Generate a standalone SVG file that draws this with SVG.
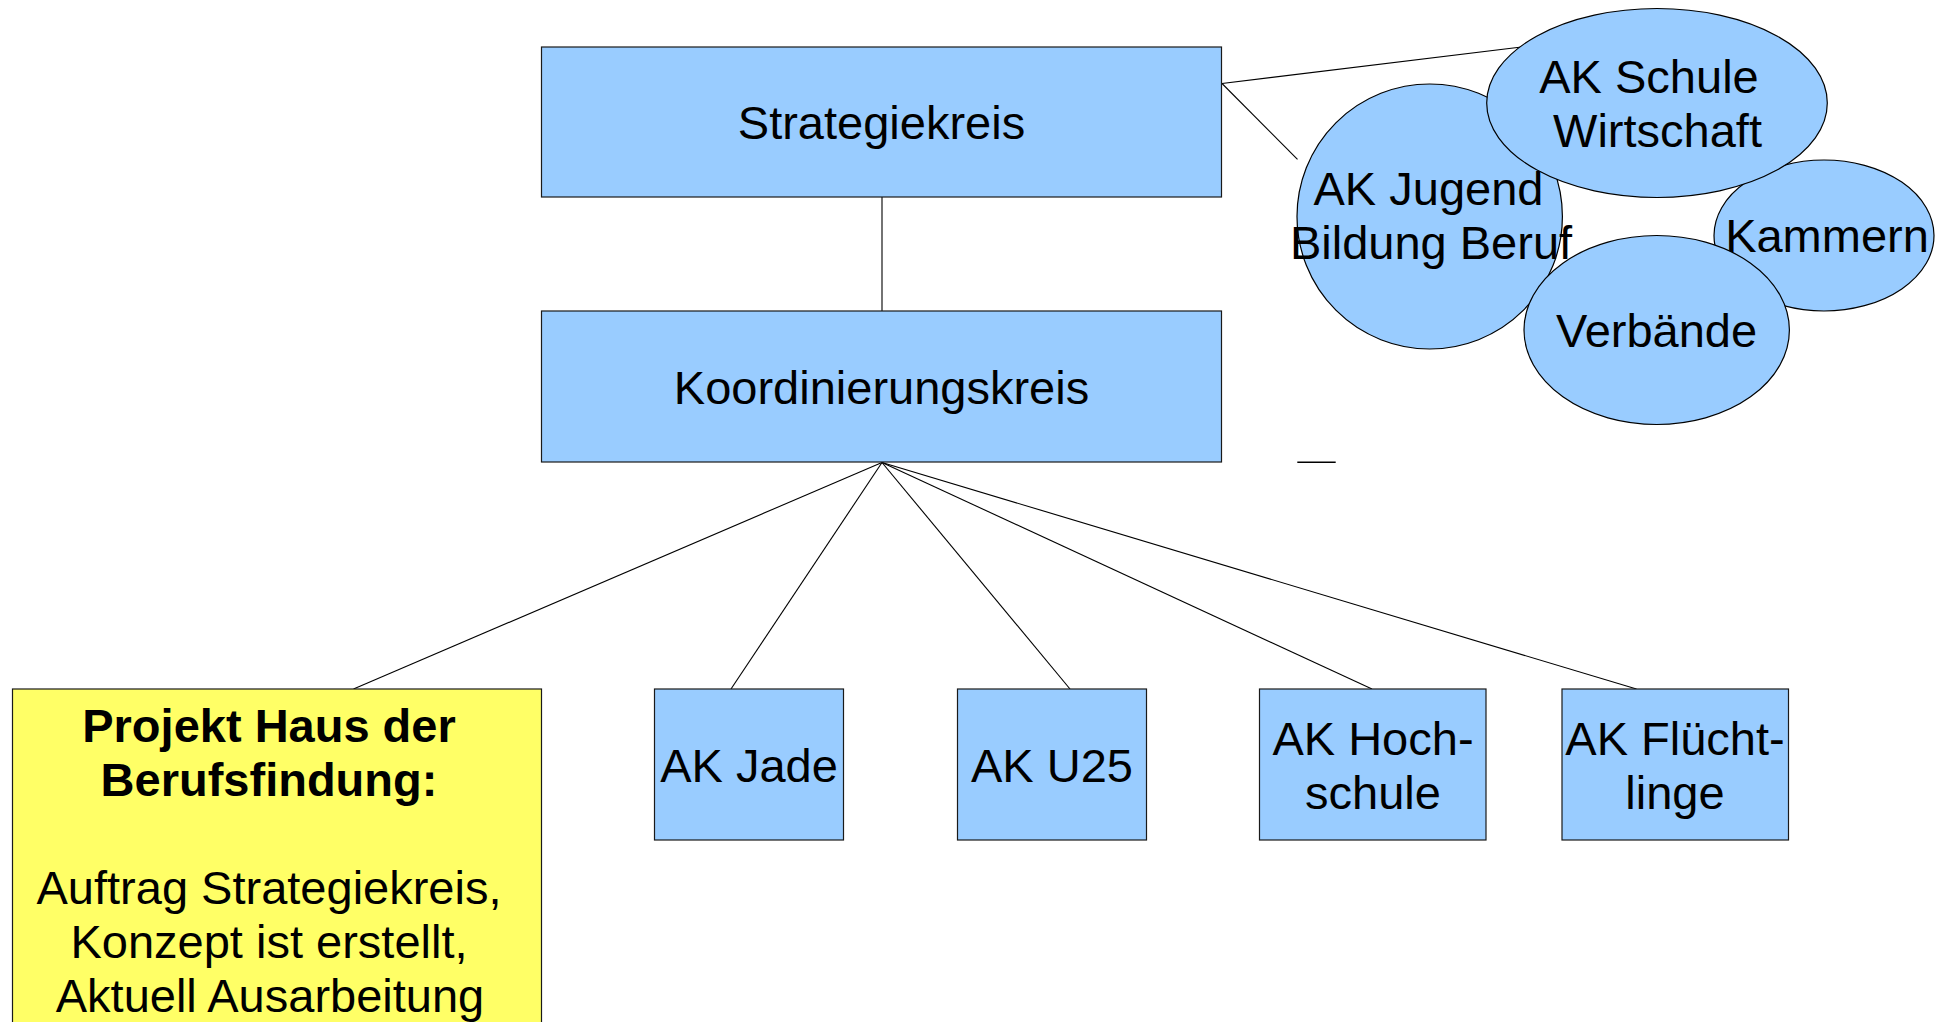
<svg xmlns="http://www.w3.org/2000/svg" width="1935" height="1022" viewBox="0 0 1935 1022">
<style>
.box{fill:#99ccff;stroke:#1a1a1a;stroke-width:1.2}
.yel{fill:#ffff66;stroke:#1a1a1a;stroke-width:1.2}
.ell{fill:#99ccff;stroke:#000;stroke-width:1.2}
.t{font-family:"Liberation Sans",Arial,sans-serif;font-size:47px;fill:#000;text-anchor:middle}
.b{font-weight:bold}
.c{stroke:#000;stroke-width:1.1;fill:none}
</style>
<rect width="1935" height="1022" fill="#fff"/>
<g id="connectors">
<line class="c" x1="882" y1="197" x2="882" y2="311"/>
<line class="c" x1="1222" y1="83.5" x2="1523.5" y2="46.7"/>
<line class="c" x1="1222" y1="83.5" x2="1297.5" y2="159.3"/>
<line class="c" x1="882" y1="462.5" x2="353.5" y2="689"/>
<line class="c" x1="882" y1="462.5" x2="731" y2="689"/>
<line class="c" x1="882" y1="462.5" x2="1070" y2="689"/>
<line class="c" x1="882" y1="462.5" x2="1372" y2="689"/>
<line class="c" x1="882" y1="462.5" x2="1636.5" y2="689"/>
<line x1="1297.3" y1="462.3" x2="1335.7" y2="462.3" stroke="#000" stroke-width="1.6"/>
</g>
<g id="strategiekreis">
<rect class="box" x="541.5" y="47" width="680" height="150"/>
<text class="t" x="881.5" y="139">Strategiekreis</text>
</g>
<g id="koordinierungskreis">
<rect class="box" x="541.5" y="311" width="680" height="151"/>
<text class="t" x="881.5" y="404">Koordinierungskreis</text>
</g>
<g id="projekt-haus">
<rect class="yel" x="12.5" y="689" width="529" height="360"/>
<text class="t b" x="269" y="742">Projekt Haus der</text>
<text class="t b" x="269" y="796">Berufsfindung:</text>
<text class="t" x="269" y="904">Auftrag Strategiekreis,</text>
<text class="t" x="269" y="958">Konzept ist erstellt,</text>
<text class="t" x="270" y="1012">Aktuell Ausarbeitung</text>
</g>
<g id="ak-jade">
<rect class="box" x="654.5" y="689" width="189" height="151"/>
<text class="t" x="749" y="782">AK Jade</text>
</g>
<g id="ak-u25">
<rect class="box" x="957.5" y="689" width="189" height="151"/>
<text class="t" x="1052" y="782">AK U25</text>
</g>
<g id="ak-hochschule">
<rect class="box" x="1259.5" y="689" width="226.5" height="151"/>
<text class="t" x="1373" y="755">AK Hoch-</text>
<text class="t" x="1373" y="809">schule</text>
</g>
<g id="ak-fluechtlinge">
<rect class="box" x="1562" y="689" width="226.5" height="151"/>
<text class="t" x="1675" y="755">AK Flücht-</text>
<text class="t" x="1675" y="809">linge</text>
</g>
<g id="ak-jugend">
<ellipse class="ell" cx="1429.7" cy="216.5" rx="132.7" ry="132.5"/>
<text class="t" x="1428.5" y="205">AK Jugend</text>
<text class="t" x="1431" y="259">Bildung Beruf</text>
</g>
<g id="kammern">
<ellipse class="ell" cx="1824" cy="235.5" rx="110" ry="75.5"/>
<text class="t" x="1827" y="252">Kammern</text>
</g>
<g id="ak-schule-wirtschaft">
<ellipse class="ell" cx="1657" cy="103" rx="170.3" ry="94.5"/>
<text class="t" x="1649" y="93">AK Schule</text>
<text class="t" x="1657.5" y="147">Wirtschaft</text>
</g>
<g id="verbaende">
<ellipse class="ell" cx="1656.7" cy="330" rx="132.7" ry="94.5"/>
<text class="t" x="1656.5" y="347">Verbände</text>
</g>
</svg>
